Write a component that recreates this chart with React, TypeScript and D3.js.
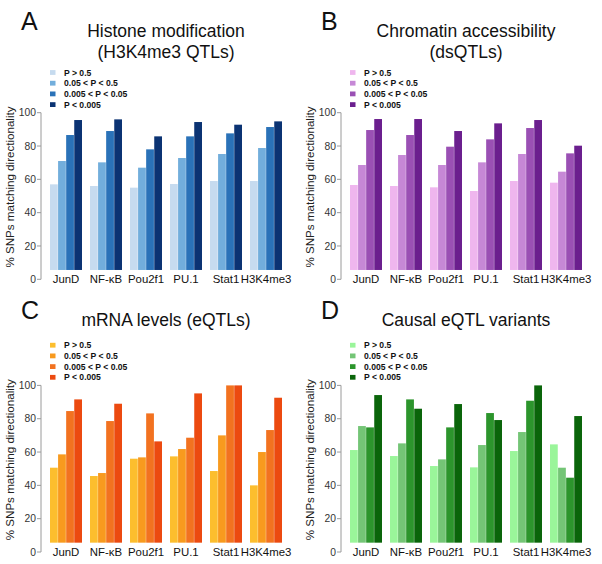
import React from 'react';
import * as d3 from 'd3';

const categories = ['JunD', 'NF-κB', 'Pou2f1', 'PU.1', 'Stat1', 'H3K4me3'];
const seriesLabels = ['P > 0.5', '0.05 < P < 0.5', '0.005 < P < 0.05', 'P < 0.005'];
const yTicks = [0, 20, 40, 60, 80, 100];
const yLabel = '% SNPs matching directionality';

// values per category: [P>0.5, 0.05<P<0.5, 0.005<P<0.05, P<0.005]
const histoneValues = [
  [57, 71, 86.6, 95.6],
  [56, 70.2, 89, 96],
  [55, 67, 78, 85.8],
  [57.2, 72.8, 85.8, 94.4],
  [59, 75.2, 87.6, 92.8],
  [59, 78.8, 91.4, 94.8],
];
const chromatinValues = [
  [56.6, 68.6, 89.6, 96.2],
  [56, 74.6, 86.6, 96.2],
  [55.2, 68.6, 79.6, 89],
  [53, 70.2, 84, 93.6],
  [59, 75.2, 90.8, 95.6],
  [58, 64.6, 75.6, 80.2],
];
const mrnaValues = [
  [50.6, 58.6, 84.6, 91.6],
  [45.6, 47.4, 78.6, 89],
  [56, 56.8, 83.2, 66.4],
  [57.4, 61.8, 68.6, 95.2],
  [48.6, 70, 100, 100],
  [40, 60, 73.2, 92.6],
];
const causalValues = [
  [61.2, 75.6, 74.8, 94.2],
  [57.6, 65.2, 91.6, 86],
  [51.6, 55.6, 74.8, 88.8],
  [50.8, 64.2, 83.4, 79.2],
  [60.6, 72, 90.8, 100],
  [64.6, 50.6, 44.6, 81.6],
];

const blues = ['#c6dbef', '#72aedc', '#2a72b8', '#0b3373'];
const purples = ['#efb6ee', '#c688d6', '#9a50b4', '#6b1f8e'];
const oranges = ['#fcbe2e', '#f89a1e', '#f27220', '#ec4a10'];
const greens = ['#9af59a', '#74c576', '#2c952c', '#0a650a'];

const panels = [
  { letter: 'A', title: ['Histone modification', '(H3K4me3 QTLs)'], values: histoneValues, colors: blues, dx: 0, dy: 0, titleDy: 0 },
  { letter: 'B', title: ['Chromatin accessibility', '(dsQTLs)'], values: chromatinValues, colors: purples, dx: 300, dy: 0, titleDy: 0 },
  { letter: 'C', title: ['mRNA levels (eQTLs)'], values: mrnaValues, colors: oranges, dx: 0, dy: 272.7, titleDy: 288.5 },
  { letter: 'D', title: ['Causal eQTL variants'], values: causalValues, colors: greens, dx: 300, dy: 272.7, titleDy: 288.5 },
];

const FONT = '"Liberation Sans", Arial, Helvetica, sans-serif';
const BAR_BASE = 5.6;

function Panel({ p }: { p: typeof panels[number] }) {
  const x0 = d3.scaleBand<string>().domain(categories).range([50, 282]).paddingInner(0.2).paddingOuter(0);
  const x1 = d3.scaleBand<number>().domain(d3.range(seriesLabels.length)).range([0, x0.bandwidth()]).paddingInner(0.04);
  const y = d3.scaleLinear().domain([0, 100]).range([279.3, 112.7]);
  const cx = (50 + 282) / 2;
  return (
    <g>
      <g transform={`translate(${p.dx},${p.titleDy})`}>
        <text x={21} y={30} fontSize={25} fontFamily={FONT} fill="#111">{p.letter}</text>
        {p.title.map((t, i) => (
          <text key={i} x={cx} y={37.3 + i * 20.2} fontSize={17.5} textAnchor="middle" fontFamily={FONT} fill="#111">{t}</text>
        ))}
      </g>
      <g transform={`translate(${p.dx},${p.dy})`}>
        {seriesLabels.map((s, i) => (
          <g key={s} transform={`translate(0,${72.5 + i * 10.7})`}>
            <rect x={50} y={-2.4} width={5.5} height={4.8} fill={p.colors[i]} />
            <text x={64} y={3.1} fontSize={8.6} fontWeight="bold" fontFamily={FONT} fill="#111">{s}</text>
          </g>
        ))}
        <line x1={41} x2={41} y1={y(0)} y2={y(100)} stroke="#9a9a9a" strokeWidth={1} />
        {yTicks.map((t) => (
          <g key={t}>
            <line x1={37} x2={41} y1={y(t)} y2={y(t)} stroke="#9a9a9a" strokeWidth={1} />
            <text x={36} y={y(t) + 3.6} fontSize={10.3} textAnchor="end" fontFamily={FONT} fill="#333">{t}</text>
          </g>
        ))}
        <text transform={`translate(13.5,187) rotate(-90)`} fontSize={11.6} textAnchor="middle" fontFamily={FONT} fill="#222">{yLabel}</text>
        {categories.map((c, ci) => (
          <g key={c} transform={`translate(${x0(c)},0)`}>
            {p.values[ci].map((v, si) => (
              <rect key={si} x={x1(si)} width={x1.bandwidth()} y={y(v)} height={y(BAR_BASE) - y(v)} fill={p.colors[si]} />
            ))}
            <text x={x0.bandwidth() / 2} y={283.3} fontSize={11.4} textAnchor="middle" fontFamily={FONT} fill="#111">{c}</text>
          </g>
        ))}
      </g>
    </g>
  );
}

export default function App() {
  return (
    <svg width={602} height={564} style={{ position: 'absolute', left: 0, top: 0, background: '#fff' }}>
      <rect width={602} height={564} fill="#fff" />
      {panels.map((p) => (
        <Panel key={p.letter} p={p} />
      ))}
    </svg>
  );
}
